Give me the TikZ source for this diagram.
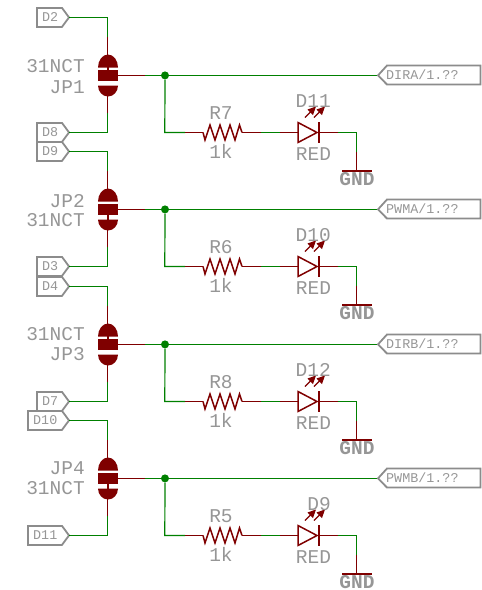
\documentclass[tikz,border=0pt]{standalone}
\usepackage{fontspec}
\setmainfont{Liberation Mono}
\definecolor{wire}{RGB}{0,128,0}
\definecolor{sym}{RGB}{127,0,0}
\definecolor{txt}{RGB}{150,150,150}
\definecolor{frame}{RGB}{140,140,140}
\tikzset{
  x=1pt,y=-1pt,
  net/.style={draw=wire,line width=1.2pt},
  pin/.style={draw=sym,line width=1.2pt},
  part/.style={draw=sym,line width=1.5pt,line join=miter},
  lbl/.style={inner sep=0pt,text=txt,font=\fontsize{19.5}{20}\selectfont},
  gndlbl/.style={inner sep=0pt,text=txt,font=\fontsize{19.5}{20}\selectfont\bfseries},
  tag/.style={inner sep=0pt,text=txt,font=\fontsize{13.4}{14}\selectfont},
  tagline/.style={draw=frame,line width=1.8pt,line join=miter},
  dot/.style={circle,fill=wire,inner sep=0pt,minimum size=8pt},
}
\newcommand{\tagL}[4]{% name, left x, y, text
  \draw[tagline] (#2,#3-9.5) -- (62,#3-9.5) -- (69,#3) -- (62,#3+9.5) -- (#2,#3+9.5) -- cycle;
  \node[tag,anchor=west] (#1) at (#2+5,#3) {#4};
}
% #1 prefix, #2 y offset, #3 top tag, #4 bottom tag, #5 left edge of tags,
% #6 y of upper text, #7 y of lower text, #8 side of closed pad (-1 top, 1 bottom),
% #9 right tag
\newcommand{\stage}[9]{%
\begin{scope}[shift={(0,#2)}]
  \tagL{#1t}{#5}{17.4}{#3}
  \tagL{#1b}{#5}{132.4}{#4}
  \coordinate (#1tp) at (69,17.4);
  \coordinate (#1bp) at (69,132.4);
  \coordinate (#1tc) at (107.7,17.4);
  \coordinate (#1bc) at (107.7,132.4);
  \coordinate (#1ts) at (107.7,37);
  \coordinate (#1bs) at (107.7,113);
  \coordinate (#1tq) at (107.7,55);
  \coordinate (#1bq) at (107.7,95);
  \coordinate (#1m) at (118,75.4);
  \coordinate (#1ms) at (145,75.4);
  \node[dot] (#1j) at (165,75.4) {};
  \coordinate (#1rt) at (378,75.4);
  \coordinate (#1c) at (164.8,132.4);
  \coordinate (#1ra) at (185,132.4);
  \coordinate (#1r1) at (203,132.4);
  \coordinate (#1r2) at (242,132.4);
  \coordinate (#1rb) at (261,132.4);
  \coordinate (#1da) at (280,132.4);
  \coordinate (#1d1) at (298,132.4);
  \coordinate (#1d2) at (319,132.4);
  \coordinate (#1db) at (338,132.4);
  \coordinate (#1g) at (356.7,132.4);
  \coordinate (#1gs) at (356.7,152);
  \coordinate (#1ge) at (356.7,171);
  % nets
  \draw[net] (#1tp) -- (#1tc) -- (#1ts);
  \draw[net] (#1bp) -- (#1bc) -- (#1bs);
  \draw[net] (#1ms) -- (#1rt);
  \draw[net] (#1j) -- (#1c) -- (#1ra);
  \draw[net] (#1rb) -- (#1da);
  \draw[net] (#1db) -- (#1g) -- (#1gs);
  % pins
  \draw[pin] (#1ts) -- (#1tq);
  \draw[pin] (#1bs) -- (#1bq);
  \draw[pin] (#1m) -- (#1ms);
  \draw[pin] (#1ra) -- (#1r1);
  \draw[pin] (#1r2) -- (#1rb);
  \draw[pin] (#1da) -- (#1d1);
  \draw[pin] (#1d2) -- (#1db);
  \draw[pin] (#1gs) -- (#1ge);
  % jumper
  \fill[sym] (97.5,70) rectangle (118,80.5);
  \fill[sym] (98,67.5) arc[start angle=180,end angle=360,x radius=10,y radius=13] -- cycle;
  \fill[sym] (98,85.5) arc[start angle=180,end angle=0,x radius=10,y radius=11] -- cycle;
  \fill[sym] (107,75+#8*4) rectangle (108.6,75+#8*11);
  % resistor
  \draw[part] (#1r1) -- (205,140) -- (210,125) -- (215,140) -- (220,125) -- (225,140) -- (230,125) -- (235,140) -- (239.5,125) -- (#1r2);
  % LED
  \draw[part] (298,122.5) -- (298,142.5) -- (317,132.5) -- cycle;
  \draw[part] (319,122) -- (319,143);
  \draw[pin] (305,117.5) -- (312,110.5);
  \fill[sym] (316,106.5) -- (307.5,109.5) -- (313,115) -- cycle;
  \draw[pin] (314,117.5) -- (321,110.5);
  \fill[sym] (325,106.5) -- (316.5,109.5) -- (322,115) -- cycle;
  % ground
  \draw[part] (342,171) -- (372,171);
  % labels
  \node[lbl,anchor=east] (#1u) at (85,#6) {\stageU};
  \node[lbl,anchor=east] (#1l) at (85,#7) {\stageL};
  \node[lbl] (#1rn) at (221,113.5) {\stageR};
  \node[lbl] (#1rv) at (221,151.5) {1k};
  \node[lbl,anchor=east] (#1dn) at (331,101) {\stageD};
  \node[lbl] (#1dv) at (313.5,154.5) {RED};
  \node[gndlbl] (#1gn) at (357,179.5) {GND};
  % right tag
  \draw[tagline] (378,75.4) -- (387,65.5) -- (480.5,65.5) -- (480.5,84.5) -- (387,84.5) -- cycle;
  \node[tag,anchor=west] (#1rl) at (386,75) {#9};
\end{scope}}
\begin{document}
\begin{tikzpicture}
\useasboundingbox (0,0) rectangle (482,590);
\def\stageU{31NCT}\def\stageL{JP1}\def\stageR{R7}\def\stageD{D11}
\stage{a}{0}{D2}{D8}{37}{66}{87}{-1}{DIRA/1.??}
\def\stageU{JP2}\def\stageL{31NCT}\def\stageR{R6}\def\stageD{D10}
\stage{b}{134}{D9}{D3}{37}{67}{86}{1}{PWMA/1.??}
\def\stageU{31NCT}\def\stageL{JP3}\def\stageR{R8}\def\stageD{D12}
\stage{c}{269}{D4}{D7}{37}{65.5}{85.5}{-1}{DIRB/1.??}
\def\stageU{JP4}\def\stageL{31NCT}\def\stageR{R5}\def\stageD{D9}
\stage{d}{403}{D10}{D11}{28}{65}{85}{1}{PWMB/1.??}
\end{tikzpicture}
\end{document}
